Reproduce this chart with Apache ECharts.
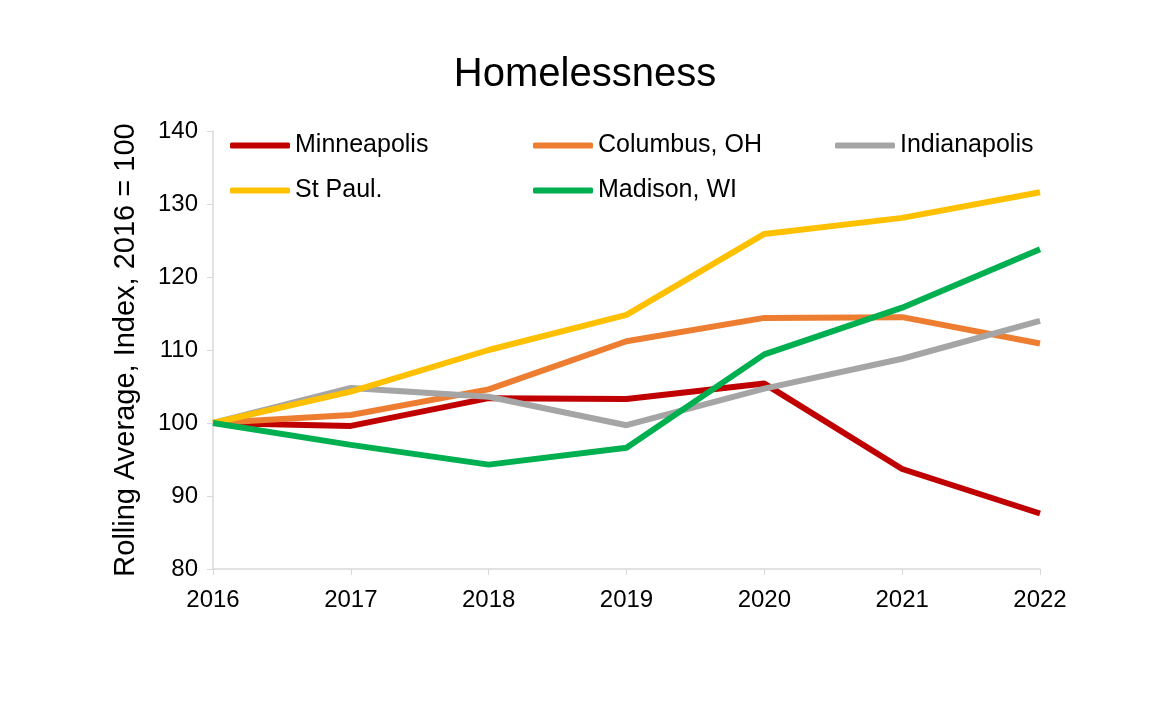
<!DOCTYPE html>
<html>
<head>
<meta charset="utf-8">
<script src="https://cdn.jsdelivr.net/npm/echarts@6/dist/echarts.min.js"></script>
<style>
    html, body { margin: 0; padding: 0; background: #fff; }
    #chart { width: 1170px; height: 715px; }
</style>
</head>
<body>
<div id="chart"></div>
<script>
var years = ['2016', '2017', '2018', '2019', '2020', '2021', '2022'];
var minneapolis = [100, 99.6, 103.4, 103.3, 105.4, 93.7, 87.6];
var columbus = [100, 101.1, 104.6, 111.2, 114.4, 114.5, 110.9];
var indianapolis = [100, 104.8, 103.6, 99.7, 104.7, 108.8, 114.0];
var stPaul = [100, 104.3, 110.0, 114.8, 125.9, 128.1, 131.6];
var madison = [100, 97.0, 94.3, 96.6, 109.4, 115.8, 123.8];
var yTicks = [80, 90, 100, 110, 120, 130, 140];

var font = 'Liberation Sans, Arial, sans-serif';

function makeSeries(name, data, color) {
    return {
        name: name,
        type: 'line',
        data: data,
        symbol: 'none',
        lineStyle: { width: 6, color: color },
        itemStyle: { color: color },
        z: 2
    };
}

// one legend per item so the columns line up like the original
function legendAt(name, left, top) {
    return {
        data: [name],
        left: left,
        top: top,
        padding: 0,
        itemWidth: 60,
        itemHeight: 6,
        itemGap: 0,
        icon: 'roundRect',
        textStyle: { fontFamily: font, fontSize: 25, color: '#000' }
    };
}

var chart = echarts.init(document.getElementById('chart'));
chart.setOption({
    backgroundColor: '#fff',
    animation: false,
    title: {
        text: 'Homelessness',
        left: 'center',
        top: 50,
        textStyle: { fontFamily: font, fontSize: 40, fontWeight: 'normal', color: '#000' }
    },
    legend: [
        legendAt('Minneapolis', 230, 133),
        legendAt('Columbus, OH', 533, 133),
        legendAt('Indianapolis', 835, 133),
        legendAt('St Paul.', 230, 178),
        legendAt('Madison, WI', 533, 178)
    ],
    grid: { left: 213, right: 130, top: 131, bottom: 146 },
    xAxis: {
        type: 'category',
        data: years,
        boundaryGap: false,
        axisLine: { lineStyle: { color: '#d9d9d9', width: 1.5 } },
        axisTick: { show: true, length: 6, lineStyle: { color: '#d9d9d9' } },
        axisLabel: { fontFamily: font, fontSize: 24, color: '#000', margin: 19 },
        splitLine: { show: false }
    },
    yAxis: {
        type: 'value',
        min: yTicks[0],
        max: yTicks[yTicks.length - 1],
        interval: 10,
        name: 'Rolling Average, Index, 2016 = 100',
        nameLocation: 'middle',
        nameGap: 73,
        nameTextStyle: { fontFamily: font, fontSize: 29, color: '#000' },
        axisLine: { show: true, lineStyle: { color: '#d9d9d9', width: 1.5 } },
        axisTick: { show: true, length: 6, lineStyle: { color: '#d9d9d9' } },
        axisLabel: { fontFamily: font, fontSize: 24, color: '#000', margin: 15 },
        splitLine: { show: false }
    },
    series: [
        makeSeries('Minneapolis', minneapolis, '#C00000'),
        makeSeries('Columbus, OH', columbus, '#ED7D31'),
        makeSeries('Indianapolis', indianapolis, '#A5A5A5'),
        makeSeries('St Paul.', stPaul, '#FFC000'),
        makeSeries('Madison, WI', madison, '#00B050')
    ]
});
</script>
</body>
</html>
